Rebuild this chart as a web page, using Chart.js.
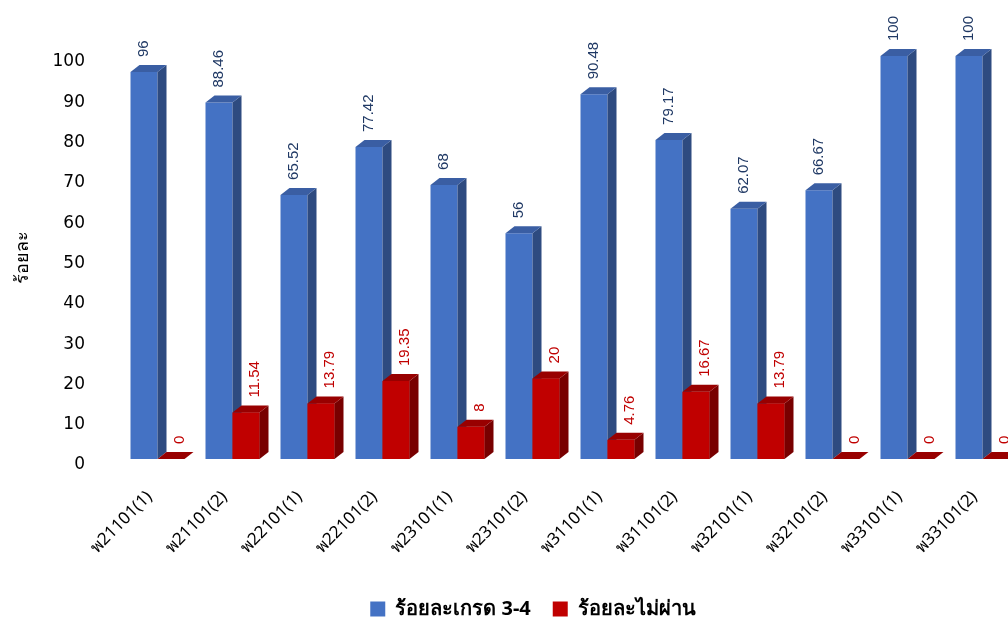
<!DOCTYPE html>
<html>
<head>
<meta charset="utf-8">
<script src="https://cdn.jsdelivr.net/npm/chart.js@4"></script>
<style>
  html, body { margin: 0; padding: 0; background: #fff; overflow: hidden; }
  #wrap { width: 1008px; height: 619px; overflow: hidden; position: relative; }
  #box { width: 1060px; height: 619px; position: absolute; left: 0; top: 0; }
</style>
</head>
<body>
<div id="wrap"><div id="box"><canvas id="gradeChart"></canvas></div></div>
<script>
const subjects = ["พ21101(1)", "พ21101(2)", "พ22101(1)", "พ22101(2)", "พ23101(1)", "พ23101(2)",
                  "พ31101(1)", "พ31101(2)", "พ32101(1)", "พ32101(2)", "พ33101(1)", "พ33101(2)"];
const grade34 = [96, 88.46, 65.52, 77.42, 68, 56, 90.48, 79.17, 62.07, 66.67, 100, 100];
const failed = [0, 11.54, 13.79, 19.35, 8, 20, 4.76, 16.67, 13.79, 0, 0, 0];
const yTicks = [0, 10, 20, 30, 40, 50, 60, 70, 80, 90, 100];

const thaiFont = 'Tahoma, "Noto Sans", "DejaVu Sans", sans-serif';

// colours for front / side / top of each series
const faces = [
    { front: '#4472C4', side: '#2E4B80', top: '#3A5EA3', label: '#1F3864', dx: 0 },
    { front: '#C00000', side: '#780000', top: '#980000', label: '#C00000', dx: 9 }
];
const depthX = 9, depthY = 7;

// draws the side and top of every bar, plus the value above it
const bars3d = {
    id: 'bars3d',
    afterLayout(chart) {
        // nudge the legend down and right to where the original sits
        const lg = chart.legend;
        const dy = 603 - (lg.top + lg.height / 2);
        lg.top += dy;
        lg.bottom += dy;
        lg.left += 23;
        lg.right += 23;
    },
    afterDatasetsDraw(chart) {
        const ctx = chart.ctx;
        ctx.save();
        chart.data.datasets.forEach((ds, di) => {
            const meta = chart.getDatasetMeta(di);
            const f = faces[di];
            meta.data.forEach((bar, i) => {
                const p = bar.getProps(['x', 'y', 'base', 'width'], true);
                const l = p.x - p.width / 2, r = p.x + p.width / 2;
                const top = p.y, base = p.base;
                if (di > 0) {
                    // redraw front so it sits over the previous series' side
                    ctx.fillStyle = f.front;
                    ctx.fillRect(l, top, r - l, base - top);
                }
                // side
                ctx.fillStyle = f.side;
                ctx.beginPath();
                ctx.moveTo(r, top);
                ctx.lineTo(r + depthX, top - depthY);
                ctx.lineTo(r + depthX, base - depthY);
                ctx.lineTo(r, base);
                ctx.closePath();
                ctx.fill();
                // top
                ctx.fillStyle = f.top;
                ctx.beginPath();
                ctx.moveTo(l, top);
                ctx.lineTo(r, top);
                ctx.lineTo(r + depthX, top - depthY);
                ctx.lineTo(l + depthX, top - depthY);
                ctx.closePath();
                ctx.fill();
            });
        });
        // value labels, rotated
        chart.data.datasets.forEach((ds, di) => {
            const meta = chart.getDatasetMeta(di);
            const f = faces[di];
            meta.data.forEach((bar, i) => {
                const p = bar.getProps(['x', 'y'], true);
                ctx.save();
                ctx.translate(p.x + f.dx, p.y - depthY - 8);
                ctx.rotate(-Math.PI / 2);
                ctx.font = '15px "Liberation Sans", Arial, sans-serif';
                ctx.fillStyle = f.label;
                ctx.textAlign = 'left';
                ctx.textBaseline = 'middle';
                ctx.fillText(String(ds.data[i]), 0, 0);
                ctx.restore();
            });
        });
        ctx.restore();
    }
};

const ctx = document.getElementById('gradeChart').getContext('2d');
new Chart(ctx, {
    type: 'bar',
    data: {
        labels: subjects,
        datasets: [
            { label: 'ร้อยละเกรด 3-4', data: grade34, backgroundColor: faces[0].front },
            { label: 'ร้อยละไม่ผ่าน', data: failed, backgroundColor: faces[1].front }
        ]
    },
    options: {
        responsive: true,
        maintainAspectRatio: false,
        animation: false,
        datasets: {
            bar: { categoryPercentage: 0.72, barPercentage: 1.0 }
        },
        layout: { padding: { top: 56, right: 40, left: 0, bottom: 0 } },
        plugins: {
            tooltip: { enabled: false },
            legend: {
                position: 'bottom',
                labels: {
                    boxWidth: 15,
                    boxHeight: 15,
                    padding: 22,
                    color: '#000',
                    font: { family: thaiFont, size: 20, weight: 'bold' }
                }
            }
        },
        scales: {
            x: {
                grid: { display: false },
                border: { display: false },
                ticks: {
                    minRotation: 45,
                    maxRotation: 45,
                    padding: 20,
                    labelOffset: -8,
                    color: '#000',
                    font: { family: thaiFont, size: 17 }
                },
                afterFit(scale) {
                    const lg = scale.chart.legend;
                    scale.height = 160 - (lg ? lg.height : 0);
                }
            },
            y: {
                min: 0,
                max: 100,
                afterBuildTicks(scale) { scale.ticks = yTicks.map(v => ({ value: v })); },
                grid: { display: false, drawTicks: false },
                border: { display: false },
                ticks: {
                    padding: 35,
                    labelOffset: 6,
                    color: '#000',
                    font: { family: '"DejaVu Sans", sans-serif', size: 17 }
                },
                title: {
                    display: true,
                    text: 'ร้อยละ',
                    color: '#000',
                    padding: { top: 12, bottom: 0 },
                    font: { family: thaiFont, size: 18 }
                },
                afterFit(scale) { scale.width = 120; }
            }
        }
    },
    plugins: [bars3d]
});
</script>
</body>
</html>
